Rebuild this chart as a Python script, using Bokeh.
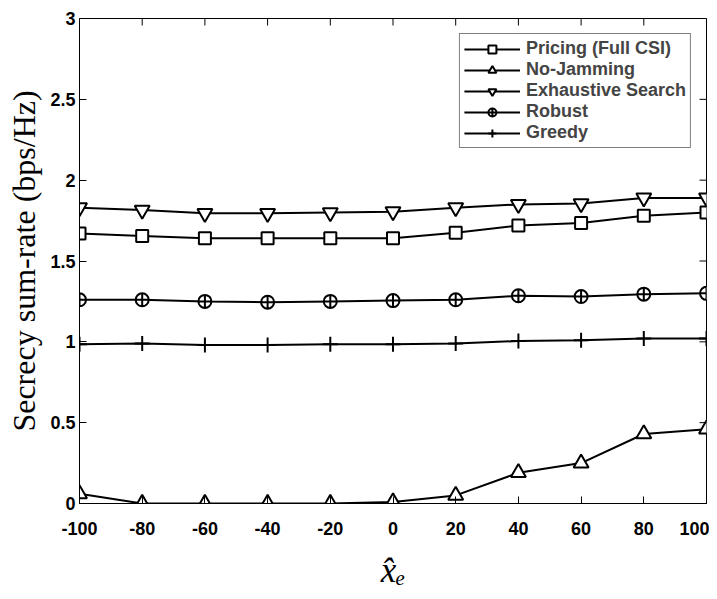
import math
from bokeh.plotting import figure
from bokeh.models import Range1d, FixedTicker
from bokeh.embed import file_html
from bokeh.resources import INLINE

# ---- data ----
x_vals = [-100, -80, -60, -40, -20, 0, 20, 40, 60, 80, 100]
pricing = [1.67, 1.655, 1.64, 1.64, 1.64, 1.64, 1.675, 1.72, 1.735, 1.78, 1.80]
no_jamming = [0.06, 0.0, 0.0, 0.0, 0.0, 0.01, 0.05, 0.19, 0.25, 0.43, 0.46]
exhaustive = [1.83, 1.815, 1.795, 1.795, 1.80, 1.805, 1.83, 1.85, 1.855, 1.89, 1.89]
robust = [1.26, 1.26, 1.25, 1.245, 1.25, 1.255, 1.26, 1.285, 1.28, 1.295, 1.30]
greedy = [0.985, 0.99, 0.98, 0.98, 0.985, 0.985, 0.99, 1.005, 1.01, 1.02, 1.02]

series_names = ["Pricing (Full CSI)", "No-Jamming", "Exhaustive Search", "Robust", "Greedy"]
series_vals = [pricing, no_jamming, exhaustive, robust, greedy]
series_markers = ["square", "triangle", "inverted_triangle", "circle_cross", "cross"]
series_sizes = [12, 15, 15, 13, 15]

x_ticks = [-100, -80, -60, -40, -20, 0, 20, 40, 60, 80, 100]
y_ticks = [0, 0.5, 1, 1.5, 2, 2.5, 3]
y_tick_labels = ["0", "0.5", "1", "1.5", "2", "2.5", "3"]
x_tick_labels = ["-100", "-80", "-60", "-40", "-20", "0", "20", "40", "60", "80", "100"]

X_MIN, X_MAX = -100, 100
Y_MIN, Y_MAX = 0, 3

p = figure(frame_width=627, frame_height=485,
           x_range=Range1d(X_MIN, X_MAX), y_range=Range1d(Y_MIN, Y_MAX),
           output_backend="svg", toolbar_location=None,
           min_border_left=79, min_border_right=3, min_border_top=18, min_border_bottom=95)
p.background_fill_color = "white"
p.border_fill_color = "white"
p.outline_line_color = "black"
p.outline_line_width = 1
p.xgrid.visible = False
p.ygrid.visible = False

tick_font = "Liberation Sans"
serif = "Liberation Serif"

def style_axis(ax, ticks, standoff):
    ax.ticker = FixedTicker(ticks=ticks)
    ax.major_tick_in = 7
    ax.major_tick_out = 0
    ax.minor_tick_line_color = None
    ax.axis_line_color = "black"
    ax.major_tick_line_color = "black"
    ax.major_tick_line_width = 1
    ax.major_label_text_font = tick_font
    ax.major_label_text_font_style = "bold"
    ax.major_label_text_font_size = "18px"
    ax.major_label_text_color = "black"
    ax.major_label_standoff = standoff

style_axis(p.xaxis[0], x_ticks, 18)
style_axis(p.yaxis[0], y_ticks, 4)
p.xaxis[0].major_label_overrides = {t: l for t, l in zip(x_ticks, x_tick_labels)}
p.yaxis[0].major_label_overrides = {t: l for t, l in zip(y_ticks, y_tick_labels)}

p.yaxis[0].axis_label = "Secrecy sum-rate (bps/Hz)"
p.yaxis[0].axis_label_text_font = serif
p.yaxis[0].axis_label_text_font_style = "normal"
p.yaxis[0].axis_label_text_font_size = "32px"
p.yaxis[0].axis_label_standoff = 5
p.yaxis[0].axis_label_text_color = "black"

p.xaxis[0].axis_label = "x\u0302\u2091"
p.xaxis[0].axis_label_text_font = serif
p.xaxis[0].axis_label_text_font_style = "italic"
p.xaxis[0].axis_label_text_font_size = "35px"
p.xaxis[0].axis_label_standoff = 13
p.xaxis[0].axis_label_text_color = "black"

# inward tick marks on the top and right edges of the box
p.ray(x=x_ticks, y=[Y_MAX] * len(x_ticks), length=7, length_units="screen",
      angle=-math.pi / 2, line_color="black", line_width=1)
p.ray(x=[X_MAX] * len(y_ticks), y=y_ticks, length=7, length_units="screen",
      angle=math.pi, line_color="black", line_width=1)

for name, vals, mk, sz in zip(series_names, series_vals, series_markers, series_sizes):
    p.line(x_vals, vals, line_color="black", line_width=2, legend_label=name)
    p.scatter(x_vals, vals, marker=mk, size=sz, line_color="black", line_width=2,
              fill_color="white", legend_label=name)

lg = p.legend[0]
lg.location = "top_right"
lg.margin = 15
lg.border_line_color = "black"
lg.border_line_width = 1
lg.background_fill_color = "white"
lg.background_fill_alpha = 1
lg.label_text_font = tick_font
lg.label_text_font_style = "bold"
lg.label_text_font_size = "18px"
lg.glyph_width = 56
lg.glyph_height = 20
lg.label_height = 20
lg.spacing = 0
lg.padding = 4
lg.label_standoff = 6

open("out.html", "w").write(file_html(p, INLINE))
